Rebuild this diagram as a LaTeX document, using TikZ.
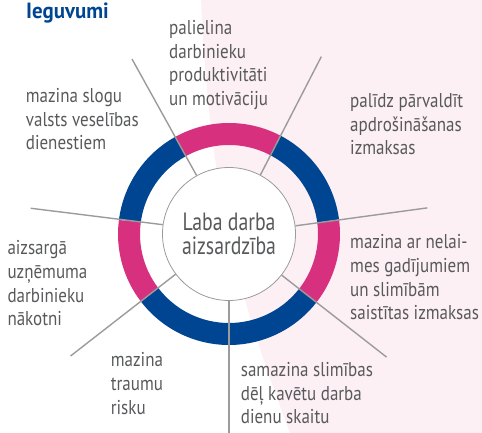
\documentclass[tikz,border=0pt]{standalone}
\usepackage{fontspec}
\setmainfont[FakeStretch=0.85]{PT Sans}
\newfontfamily\hubfont[FakeStretch=0.79]{PT Sans}
\newfontfamily\titlefont[FakeStretch=0.95]{PT Sans}
\usepackage{tikz}
\usetikzlibrary{calc, positioning}
\usepackage{xcolor}
\definecolor{ringpink}{HTML}{D7307F}
\definecolor{ringblue}{HTML}{004592}
\definecolor{bgpink}{HTML}{FCF0F4}
\definecolor{spokegray}{HTML}{9B9B9B}
\definecolor{textgray}{HTML}{58595B}

\begin{document}
\begin{tikzpicture}[x=1pt, y=1pt,
    ring/.style={line width=22pt},
    spoke/.style={draw=spokegray, line width=1.4pt},
    benefit/.style={anchor=base west, inner sep=0pt, align=left, text=textgray,
        font=\fontsize{20}{23.7}\selectfont}]
    \useasboundingbox (0,0) rectangle (482,433);
    % background
    \fill[bgpink] (201,433) .. controls (210,233) and (240,133) .. (290,0) -- (482,0) -- (482,433) -- cycle;
    \coordinate (c) at (229,199);
    % ring
    \draw[ring, ringpink] ($(c)+(62.5:100)$) arc[start angle=62.5, end angle=119, radius=100];
    \draw[ring, ringblue] ($(c)+(119:100)$) arc[start angle=119, end angle=172.6, radius=100];
    \draw[ring, ringpink] ($(c)+(172.6:100)$) arc[start angle=172.6, end angle=217.6, radius=100];
    \draw[ring, ringblue] ($(c)+(217.6:100)$) arc[start angle=217.6, end angle=322, radius=100];
    \draw[ring, ringpink] ($(c)+(322:100)$) arc[start angle=322, end angle=367.5, radius=100];
    \draw[ring, ringblue] ($(c)+(7.5:100)$) arc[start angle=7.5, end angle=62.5, radius=100];
    % hub
    \node[circle, draw=spokegray, line width=0.8pt, fill=white, minimum size=133pt, inner sep=0pt,
        align=center, text=textgray, font=\hubfont\fontsize{25}{23.5}\selectfont] (hub) at (c) {Laba darba\\aizsardzība};
    % spokes
    \foreach \a [count=\i] in {62.5, 119, 172.6, 217.6, 270, 322, 7.5} {
        \coordinate (end_\i) at ($(c)+(\a:200)$);
        \draw[spoke] (hub.\a) -- (end_\i);
    }
    % title
    \node[anchor=base west, inner sep=0pt, text=ringblue, font=\titlefont\fontsize{22}{24}\selectfont\bfseries] (title) at (26,414.7) {Ieguvumi};
    % benefits (placed at the baseline of the last line)
    \node[benefit] (b_1) at (169,327.5) {palielina\\darbinieku\\produktivitāti\\un motivāciju};
    \node[benefit] (b_2) at (350,278) {palīdz pārvaldīt\\apdrošināšanas\\izmaksas};
    \node[benefit] (b_3) at (350,113) {mazina ar nelai-\\mes gadījumiem\\un slimībām\\saistītas izmaksas};
    \node[benefit] (b_4) at (240.7,9) {samazina slimības\\dēļ kavētu darba\\dienu skaitu};
    \node[benefit] (b_5) at (110.7,18.7) {mazina\\traumu\\risku};
    \node[benefit] (b_6) at (7.3,107) {aizsargā\\uzņēmuma\\darbinieku\\nākotni};
    \node[benefit] (b_7) at (25.7,283) {mazina slogu\\valsts veselības\\dienestiem};
\end{tikzpicture}
\end{document}
